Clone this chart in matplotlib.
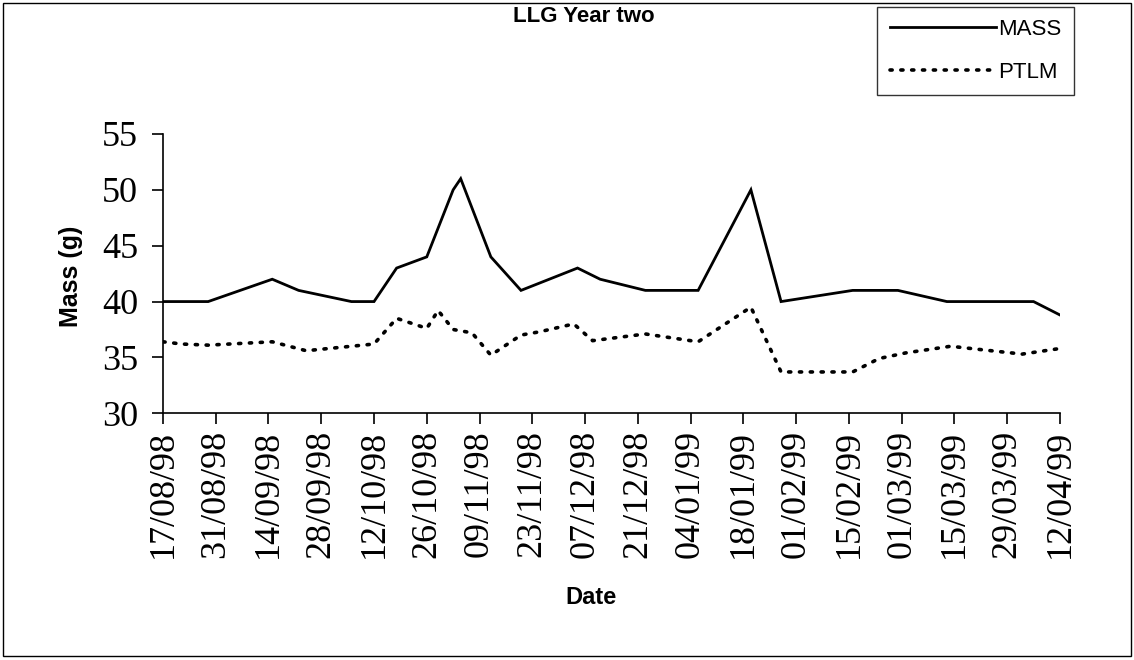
#!/usr/bin/env python

import matplotlib
matplotlib.use('Agg')
import matplotlib.pyplot as plt
import matplotlib.dates as mdates
import numpy as np
import pandas as pd
from matplotlib.patches import Rectangle

# sampling offsets (days after 17/08/98) and readings for each series
startDate = '1998-08-17'
massDays = [0, 12, 29, 36, 50, 56, 62, 70, 77, 79, 87, 95, 110, 116, 128,
            142, 156, 164, 183, 195, 208, 231, 238]
massValues = [40, 40, 42, 41, 40, 40, 43, 44, 50, 51, 44, 41, 43, 42, 41,
              41, 50, 40, 41, 41, 40, 40, 38.8]

ptlmDays = [0, 5, 12, 29, 38, 47, 56, 62, 70, 73, 77, 82, 87, 95, 100, 109,
            114, 128, 142, 156, 164, 183, 190, 197, 209, 217, 228, 238]
ptlmValues = [36.4, 36.2, 36.1, 36.4, 35.6, 35.9, 36.2, 38.5, 37.6, 39.2,
              37.5, 37.2, 35.2, 37.0, 37.3, 38.0, 36.5, 37.1, 36.4, 39.5,
              33.7, 33.7, 34.9, 35.4, 36.0, 35.7, 35.3, 35.8]

tickSpacingDays = 14
yTicks = [30, 35, 40, 45, 50, 55]


def main():
    start = pd.Timestamp(startDate)
    massDates = start + pd.to_timedelta(massDays, unit='D')
    ptlmDates = start + pd.to_timedelta(ptlmDays, unit='D')
    endDate = start + pd.Timedelta(days=238)
    tickDates = pd.date_range(start, endDate, freq='%dD' % tickSpacingDays)

    fig = plt.figure(figsize=(11.34, 6.6), dpi=100)
    ax = fig.add_axes([0.1437, 0.3738, 0.7910, 0.4232])

    ax.plot(massDates, massValues, color='black', lw=2.0,
            solid_joinstyle='miter', label='MASS')
    ax.plot(ptlmDates, ptlmValues, color='black', lw=2.6,
            linestyle=(0, (0.6, 2.4)), dash_capstyle='round', label='PTLM')

    ax.set_xlim(start, endDate)
    ax.set_ylim(30, 55)
    ax.set_yticks(yTicks)
    ax.set_xticks(tickDates)
    ax.xaxis.set_major_formatter(mdates.DateFormatter('%d/%m/%y'))

    for side in ['top', 'right']:
        ax.spines[side].set_visible(False)
    for side in ['left', 'bottom']:
        ax.spines[side].set_linewidth(1.2)
        ax.spines[side].set_color('black')

    ax.tick_params(axis='both', direction='out', length=8, width=1.2,
                   color='black')
    serif = {'family': 'Liberation Serif', 'size': 26}
    for lbl in ax.get_yticklabels():
        lbl.set_fontproperties(serif)
    for lbl in ax.get_xticklabels():
        lbl.set_fontproperties(serif)
        lbl.set_rotation(90)
    ax.tick_params(axis='y', pad=10)
    ax.tick_params(axis='x', pad=4)

    fig.text(0.0626, 0.582, 'Mass (g)', rotation=90, ha='center',
             va='center', family='Liberation Sans', weight='bold', size=18)
    fig.text(0.521, 0.094, 'Date', ha='center', va='center',
             family='Liberation Sans', weight='bold', size=17)
    fig.text(0.515, 0.975, 'LLG Year two', ha='center', va='center',
             family='Liberation Sans', weight='bold', size=16)

    leg = ax.legend(loc='upper right', bbox_to_anchor=(0.947, 0.99),
                    bbox_transform=fig.transFigure, frameon=True,
                    fancybox=False, handlelength=4.8, handletextpad=0.1,
                    borderpad=0.55, labelspacing=1.0, borderaxespad=0,
                    prop={'family': 'Liberation Sans', 'size': 16})
    leg.get_frame().set_edgecolor('black')
    leg.get_frame().set_linewidth(1.0)

    # border round the whole chart
    fig.patches.append(Rectangle((0.003, 0.006), 0.994, 0.989,
                                 transform=fig.transFigure, fill=False,
                                 edgecolor='black', lw=1.0))

    fig.savefig('out.png', dpi=100)


if __name__ == '__main__':
    main()
